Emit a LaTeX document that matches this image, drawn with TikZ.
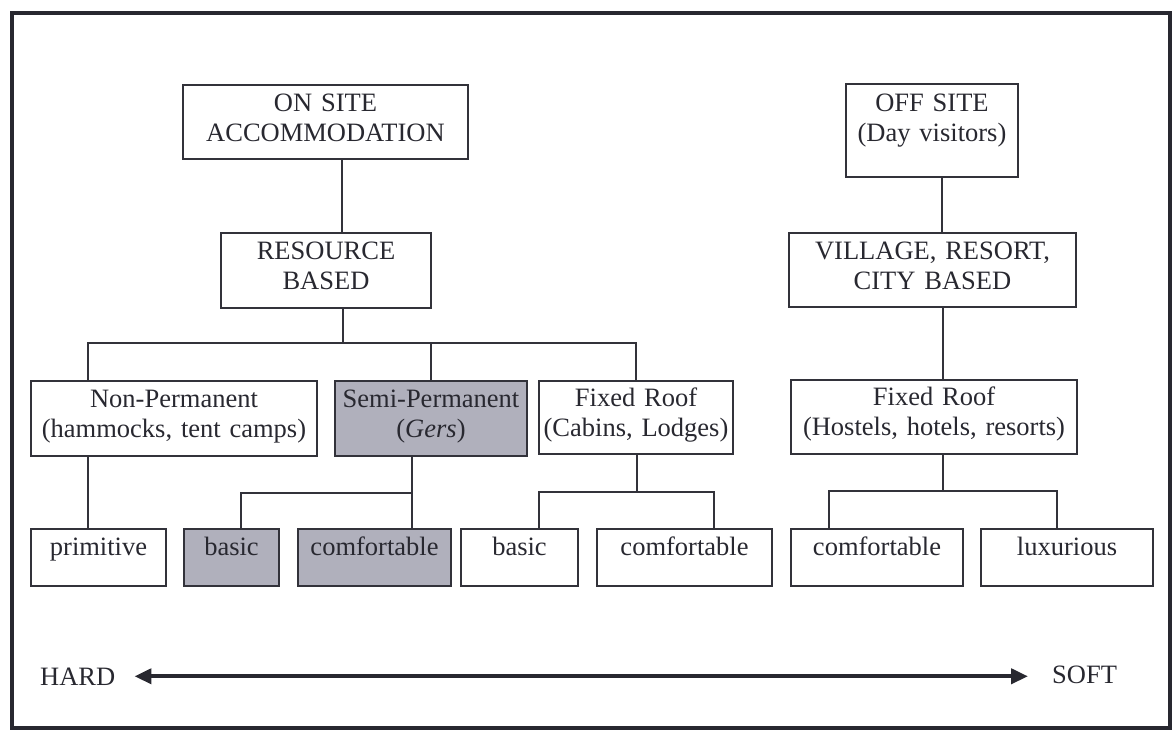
\documentclass[tikz,border=0pt]{standalone}
\usepackage{fontspec}
\setmainfont{Liberation Serif}
\usetikzlibrary{arrows.meta}
\definecolor{ink}{RGB}{40,40,48}
\definecolor{rule}{RGB}{50,50,58}
\definecolor{shade}{RGB}{176,176,188}
\tikzset{
  box/.style={draw=rule, line width=1.5pt, inner sep=0pt, outer sep=0pt,
    align=center, anchor=base west, text=ink,
    font=\fontsize{26.5}{30}\selectfont},
  grey/.style={box, fill=shade},
  lowbox/.style={text height=26pt, text depth=31pt},
  conn/.style={draw=rule, line width=1.5pt},
  endlabel/.style={anchor=base west, inner sep=0pt, text=ink,
    font=\fontsize{26.5}{30}\selectfont},
  scale arrow/.style={draw=ink, line width=4pt,
    {Triangle[length=17pt,width=15pt]}-{Triangle[length=17pt,width=15pt]}}
}
\begin{document}
\begin{tikzpicture}[x=1pt,y=-1pt]
\useasboundingbox (0,0) rectangle (1173,730);
% frame
\draw[draw=ink, line width=3.5pt] (12,13) rectangle (1170,728);

% resource-based branch
\node[box, text width=285pt, text height=27pt, text depth=47pt] (onsite) at (183,112) {ON SITE\\ACCOMMODATION};
\node[box, text width=210pt, text height=27pt, text depth=48pt] (res) at (221,260) {RESOURCE\\BASED};
\node[box, text width=286pt, text height=26pt, text depth=49pt] (nonperm) at (31,407) {Non-Permanent\\(hammocks, tent camps)};
\node[grey, text width=192pt, text height=26pt, text depth=49pt] (semi) at (335,407) {Semi-Permanent\\(\textit{Gers})};
\node[box, text width=194pt, text height=25pt, text depth=48pt] (fixed) at (539,406) {Fixed Roof\\(Cabins, Lodges)};
\node[box, lowbox, text width=135pt] (prim) at (31,555) {primitive};
\node[grey, lowbox, text width=95pt] (sbasic) at (184,555) {basic};
\node[grey, lowbox, text width=153pt] (scomf) at (298,555) {comfortable};
\node[box, lowbox, text width=117pt] (fbasic) at (461,555) {basic};
\node[box, lowbox, text width=175pt] (fcomf) at (597,555) {comfortable};

% village-based branch
\node[box, text width=172pt, text height=28pt, text depth=65pt] (offsite) at (846,112) {OFF SITE\\(Day visitors)};
\node[box, text width=287pt, text height=27pt, text depth=47pt] (village) at (789,260) {VILLAGE, RESORT,\\CITY BASED};
\node[box, text width=286pt, text height=25pt, text depth=49pt] (fixedR) at (791,405) {Fixed Roof\\(Hostels, hotels, resorts)};
\node[box, lowbox, text width=172pt] (rcomf) at (791,555) {comfortable};
\node[box, lowbox, text width=172pt] (rlux) at (981,555) {luxurious};

% junction points of the connectors
\coordinate (xa) at (342,0);
\coordinate (j1) at (343,343);
\coordinate (j1a) at (88,343);
\coordinate (j1b) at (431,343);
\coordinate (j1c) at (636,343);
\coordinate (xp) at (88,0);
\coordinate (j2) at (412,493);
\coordinate (j2a) at (241,493);
\coordinate (j3) at (637,492);
\coordinate (j3a) at (539,492);
\coordinate (j3b) at (714,492);
\coordinate (xo) at (942,0);
\coordinate (j4) at (943,491);
\coordinate (j4a) at (829,491);
\coordinate (j4b) at (1057,491);

% connectors
\draw[conn] (onsite.south -| xa) -- (res.north -| xa);
\draw[conn] (res.south -| j1) -- (j1);
\draw[conn] (nonperm.north -| j1a) -- (j1a) -- (j1c) -- (fixed.north -| j1c);
\draw[conn] (j1b) -- (semi.north -| j1b);
\draw[conn] (nonperm.south -| xp) -- (prim.north -| xp);
\draw[conn] (semi.south -| j2) -- (j2) -- (j2a) -- (sbasic.north -| j2a);
\draw[conn] (j2) -- (scomf.north -| j2);
\draw[conn] (fixed.south -| j3) -- (j3);
\draw[conn] (fbasic.north -| j3a) -- (j3a) -- (j3b) -- (fcomf.north -| j3b);
\draw[conn] (offsite.south -| xo) -- (village.north -| xo);
\draw[conn] (village.south -| j4) -- (fixedR.north -| j4);
\draw[conn] (fixedR.south -| j4) -- (j4);
\draw[conn] (rcomf.north -| j4a) -- (j4a) -- (j4b) -- (rlux.north -| j4b);

% hard-soft scale
\node[endlabel] (hard) at (40,685) {HARD};
\node[endlabel] (soft) at (1052,683) {SOFT};
\draw[scale arrow, shorten <=19pt, shorten >=24pt] (hard.east) -- (soft.west |- hard.east);
\end{tikzpicture}
\end{document}
